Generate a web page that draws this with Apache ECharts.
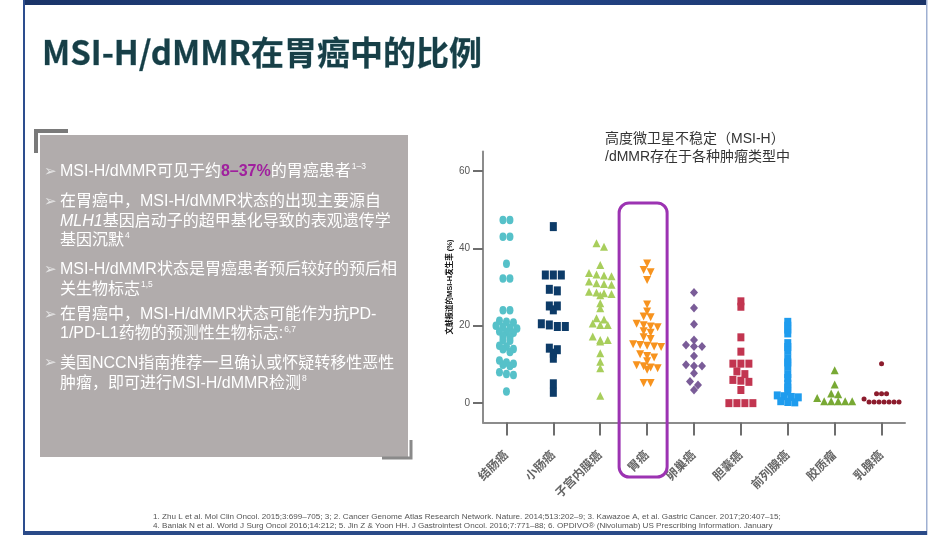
<!DOCTYPE html>
<html><head><meta charset="utf-8">
<script src="https://cdn.jsdelivr.net/npm/echarts/dist/echarts.min.js"></script>
<style>html,body{margin:0;padding:0;background:#fff;}#c{width:950px;height:535px;}</style>
</head><body><div id="c"></div>
<script>
// ---- data ----
const categories = ['结肠癌','小肠癌','子宫内膜癌','胃癌','卵巢癌','胆囊癌','前列腺癌','胶质瘤','乳腺癌'];
const yTicks = [0, 20, 40, 60];
const colon = [47.3,47.3,43,43,36,32.2,32.2,24,24,21.3,21,20.8,20,19.7,19.5,19.3,18.5,18.3,18.2,17.3,17,16.3,16.1,14.8,14.6,14,13.9,13.2,11,10.5,10.2,9.9,9.6,8,7.5,7.3,3];
const smallIntestine = [45.6,33.1,33.1,33.1,29.4,29,25.1,25.1,24.1,20.5,20.2,19.8,19.8,14.2,13.8,12.9,11.6,5.0,2.8];
const endometrial = [41.3,40.4,35.7,33.6,33.2,33.0,32.8,31.4,31.0,30.8,30.6,28.8,28.6,28.4,28.2,27.9,25.8,24.5,21.9,21.6,20.6,20.2,20.2,17.2,16.3,16.3,15.9,12.9,10.7,9.0,1.9];
const stomach = [36.1,34.4,33.8,31.8,25.5,23.7,22.4,22.2,20.5,20.1,19.8,19.6,18.6,18.2,17.0,16.6,15.2,15.0,14.8,14.6,14.5,12.6,12.2,11.8,10.8,9.8,9.5,9.2,9.0,8.6,5.2,5.2];
const ovarian = [28.6,24.6,20.4,16.3,15.0,14.6,14.6,12.2,9.9,9.6,9.6,7.7,5.6,4.7,3.4];
const gallbladder = [26.3,24.9,17.0,13.3,10.2,10.2,10.2,8.2,7.5,6.0,5.8,5.5,3.4,0,0,0,0];
const prostate = [21,20,19,18,15.5,14.5,13.5,11.5,10.5,9.5,7.5,6.5,5,4,3,2,1.8,1.6,1.5,0.5,0.3,0.2];
const glioma = [8.5,4.8,2.5,2.3,1.3,0.5,0.5,0.5,0.5,0.5];
const breast = [10.2,2.4,2.4,2.4,1.1,0.3,0.3,0.3,0.3,0.3,0.3,0.3];

// ---- layout / style ----
const FONT = '"Liberation Sans","Noto Sans CJK SC",sans-serif';
const GRID = {left: 483, top: 151.5, width: 422, height: 271};
const Y_MIN = -5, Y_MAX = 65;
const pxPerCat = GRID.width / categories.length;

const defs = [
  {data: colon, symbol: 'circle', size: [7, 8.5], step: 7, color: '#56C1C9'},
  {data: smallIntestine, symbol: 'rect', size: [7, 9], step: 8, color: '#0D3B68'},
  {data: endometrial, symbol: 'triangle', size: [8, 8], step: 7.5, color: '#A8CE5C'},
  {data: stomach, symbol: 'triangle', rotate: 180, size: [8, 8], step: 7, color: '#F7931E'},
  {data: ovarian, symbol: 'diamond', size: [8, 9], step: 8, color: '#7A5C98'},
  {data: gallbladder, symbol: 'rect', size: [7, 8], step: 8, color: '#C23550'},
  {data: prostate, symbol: 'rect', size: [7, 8], step: 7, color: '#1E9CEE'},
  {data: glioma, symbol: 'triangle', size: [8, 8], step: 7, color: '#78A934'},
  {data: breast, symbol: 'circle', size: [5, 5], step: 5, color: '#8C1C2D'}
];

function rowOffsets(values, tol) {
  const idx = values.map((v, i) => i).sort((a, b) => values[b] - values[a]);
  const off = new Array(values.length).fill(0);
  let row = [], start = null;
  const flush = () => { row.forEach((k, j) => { off[k] = j - (row.length - 1) / 2; }); row = []; };
  for (const k of idx) {
    if (row.length && start - values[k] > tol) flush();
    if (!row.length) start = values[k];
    row.push(k);
  }
  flush();
  return off;
}

const series = defs.map((d, i) => {
  const off = rowOffsets(d.data, 0.9);
  return {
    type: 'scatter',
    name: categories[i],
    symbol: d.symbol,
    symbolSize: d.size,
    symbolRotate: d.rotate || 0,
    itemStyle: {color: d.color, opacity: 1},
    data: d.data.map((v, k) => [i + off[k] * d.step / pxPerCat, v]),
    z: 3
  };
});

const bullets = [
  {y: 171.7, text: '{t|MSI-H/dMMR可见于约}{h|8–37%}{t|的胃癌患者}{s|1–3}', arrow: true},
  {y: 201.7, text: '{t|在胃癌中，MSI-H/dMMR状态的出现主要源自}', arrow: true},
  {y: 221.7, text: '{i|MLH1}{t|基因启动子的超甲基化导致的表观遗传学}'},
  {y: 240.5, text: '{t|基因沉默}{s|4}'},
  {y: 270, text: '{t|MSI-H/dMMR状态是胃癌患者预后较好的预后相}', arrow: true},
  {y: 289.5, text: '{t|关生物标志}{s|1,5}'},
  {y: 315, text: '{t|在胃癌中，MSI-H/dMMR状态可能作为抗PD-}', arrow: true},
  {y: 334, text: '{t|1/PD-L1药物的预测性生物标志:}{s|6,7}'},
  {y: 363.5, text: '{t|美国NCCN指南推荐一旦确认或怀疑转移性恶性}', arrow: true},
  {y: 383.5, text: '{t|肿瘤，即可进行MSI-H/dMMR检测}{s|8}'}
];
const rich = {
  t: {fontSize: 16, fill: '#ffffff', fontFamily: FONT, lineHeight: 20},
  i: {fontSize: 16, fill: '#ffffff', fontFamily: FONT, fontStyle: 'italic', lineHeight: 20},
  h: {fontSize: 16, fill: '#A0209E', fontFamily: FONT, fontWeight: 'bold', lineHeight: 20},
  s: {fontSize: 8.5, fill: '#ffffff', fontFamily: FONT, lineHeight: 20, verticalAlign: 'top', padding: [1, 0, 0, 1]}
};

const graphics = [
  {type: 'rect', silent: true, shape: {x: 23, y: 0, width: 904, height: 5},
   style: {fill: new echarts.graphic.LinearGradient(0, 0, 1, 0, [{offset: 0, color: '#1a3468'}, {offset: 0.5, color: '#24468a'}, {offset: 1, color: '#1a3468'}])}},
  {type: 'rect', silent: true, shape: {x: 23, y: 0, width: 2, height: 535}, style: {fill: '#2d4d8e'}},
  {type: 'rect', silent: true, shape: {x: 926, y: 0, width: 1.5, height: 535}, style: {fill: '#9fb0d2'}},
  {type: 'rect', silent: true, shape: {x: 23, y: 531, width: 904, height: 4}, style: {fill: '#2a4a88'}},
  {type: 'text', silent: true, x: 42, y: 52,
   style: {text: 'MSI-H/dMMR在胃癌中的比例', fill: '#173f47', font: 'bold 33px "Noto Sans CJK SC","Liberation Sans",sans-serif', textVerticalAlign: 'middle', stroke: '#6f9aa3', lineWidth: 0.4}},
  {type: 'rect', silent: true, shape: {x: 40, y: 135, width: 368, height: 322}, style: {fill: '#b1acac'}},
  {type: 'polyline', silent: true, shape: {points: [[36, 153], [36, 131], [68, 131]]}, style: {stroke: '#7a7a7a', lineWidth: 4, fill: null}},
  {type: 'polyline', silent: true, shape: {points: [[411, 440], [411, 458], [382, 458]]}, style: {stroke: '#8a8a8a', lineWidth: 3, fill: null}},
  {type: 'text', silent: true, x: 153, y: 516.5,
   style: {text: '1. Zhu L et al. Mol Clin Oncol. 2015;3:699–705; 3; 2. Cancer Genome Atlas Research Network. Nature. 2014;513:202–9; 3. Kawazoe A, et al. Gastric Cancer. 2017;20:407–15;',
     fill: '#555', font: '8.1px "Liberation Sans",sans-serif', textVerticalAlign: 'middle'}},
  {type: 'text', silent: true, x: 153, y: 526,
   style: {text: '4. Baniak N et al. World J Surg Oncol 2016;14:212; 5. Jin Z & Yoon HH. J Gastrointest Oncol. 2016;7:771–88; 6. OPDIVO® (Nivolumab) US Prescribing Information. January',
     fill: '#555', font: '8.1px "Liberation Sans",sans-serif', textVerticalAlign: 'middle'}}
];
bullets.forEach(b => {
  if (b.arrow) graphics.push({type: 'text', silent: true, x: 44, y: b.y,
    style: {text: '➢', fill: '#e6e6e6', font: 'bold 15px "DejaVu Sans",sans-serif', textVerticalAlign: 'middle'}});
  graphics.push({type: 'text', silent: true, x: 60, y: b.y,
    style: {text: b.text, rich: rich, fill: '#ffffff', textVerticalAlign: 'middle', font: '16px ' + FONT}});
});

const chart = echarts.init(document.getElementById('c'), null, {renderer: 'canvas'});
const catIdx = categories.map((c, i) => i);
chart.setOption({
  animation: false,
  backgroundColor: '#ffffff',
  title: {
    text: '高度微卫星不稳定（MSI-H）\n/dMMR存在于各种肿瘤类型中',
    left: 600, top: 125,
    textStyle: {fontSize: 14, fontWeight: 'normal', color: '#333', lineHeight: 18, fontFamily: FONT}
  },
  grid: GRID,
  xAxis: {
    type: 'value', min: -0.5, max: 8.5,
    axisLine: {onZero: false, lineStyle: {color: '#8c8c8c', width: 2}},
    axisTick: {customValues: catIdx, length: 13, lineStyle: {color: '#6e6e6e', width: 2}},
    axisLabel: {customValues: catIdx, rotate: 45, margin: 31, fontSize: 12, fontWeight: 'bold', color: '#666',
      fontFamily: FONT, formatter: v => categories[Math.round(v)]},
    splitLine: {show: false}
  },
  yAxis: {
    type: 'value', min: Y_MIN, max: Y_MAX,
    name: '文献报道的MSI-H发生率 (%)', nameLocation: 'middle', nameRotate: 90, nameGap: 29,
    nameTextStyle: {fontSize: 7.5, fontWeight: 'bold', color: '#111', fontFamily: FONT},
    axisLine: {onZero: false, lineStyle: {color: '#8c8c8c', width: 2}},
    axisTick: {customValues: yTicks, length: 10, lineStyle: {color: '#6e6e6e', width: 2}},
    axisLabel: {customValues: yTicks, fontSize: 10, color: '#555', margin: 13, fontFamily: FONT},
    splitLine: {show: false}
  },
  series: series,
  graphic: graphics
});

// highlight box around 胃癌 column, positioned through the axis scales
const c3 = chart.convertToPixel({gridIndex: 0}, [3, 0]);
const topPx = chart.convertToPixel({gridIndex: 0}, [3, 51.7])[1];
graphics.push({type: 'rect', silent: true, z: 10,
  shape: {x: c3[0] - 28, y: topPx, width: 48, height: 477 - topPx, r: 10},
  style: {fill: null, stroke: '#9C33B2', lineWidth: 3}});
chart.setOption({graphic: graphics});
</script>
</body></html>
